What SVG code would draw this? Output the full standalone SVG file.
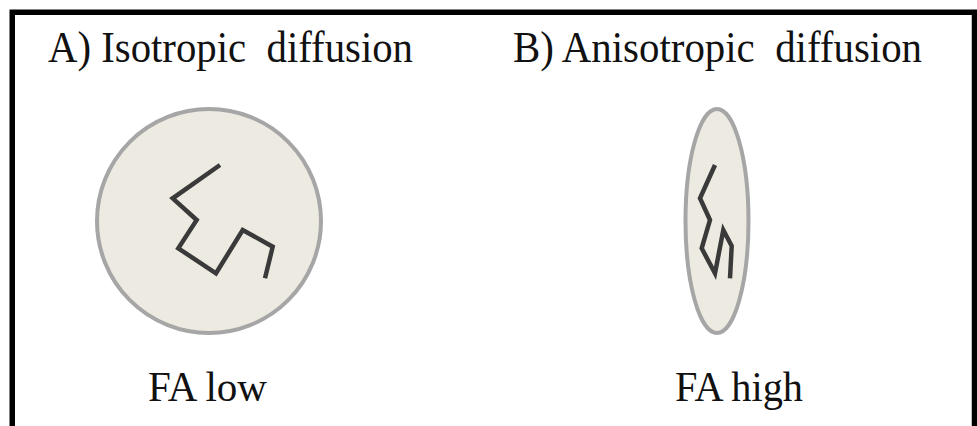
<svg xmlns="http://www.w3.org/2000/svg" width="977" height="426" viewBox="0 0 977 426">
  <style>
    .frame { fill: none; stroke: #000; stroke-width: 5.5; }
    .title { font-family: "Liberation Serif", "Times New Roman", serif; font-size: 45px; fill: #111; white-space: pre; }
    .label { font-family: "Liberation Serif", "Times New Roman", serif; font-size: 42px; fill: #111; }
    .cell { fill: #edebe1; stroke: #a6a6a6; stroke-width: 4; }
    .walk { fill: none; stroke: #3a3a3a; stroke-width: 4.5; stroke-linejoin: miter; stroke-linecap: butt; }
  </style>
  <rect width="977" height="426" fill="#fff"/>

  <!-- outer frame, open at the bottom -->
  <path class="frame" d="M12.25,426 V12.25 H974.5 V426"/>

  <!-- panel A: isotropic -->
  <g id="isotropic">
    <text class="title" x="48" y="62" textLength="365" lengthAdjust="spacingAndGlyphs">A) Isotropic  diffusion</text>
    <circle class="cell" cx="209" cy="221" r="112"/>
    <polyline class="walk" points="220,165 172.7,198.3 196.7,220 178.3,248.3 216,273.3 242.7,230 272.7,246.7 265,278.3"/>
    <text class="label" x="148" y="401" textLength="119" lengthAdjust="spacingAndGlyphs">FA low</text>
  </g>

  <!-- panel B: anisotropic -->
  <g id="anisotropic">
    <text class="title" x="513" y="62" textLength="409" lengthAdjust="spacingAndGlyphs">B) Anisotropic  diffusion</text>
    <ellipse class="cell" cx="717" cy="221" rx="31.5" ry="112"/>
    <polyline class="walk" points="715,165 700,198.3 710,220 701.7,248.3 715,273.3 723.3,230 731.7,246 730,278.3"/>
    <text class="label" x="675" y="401" textLength="128" lengthAdjust="spacingAndGlyphs">FA high</text>
  </g>
</svg>
